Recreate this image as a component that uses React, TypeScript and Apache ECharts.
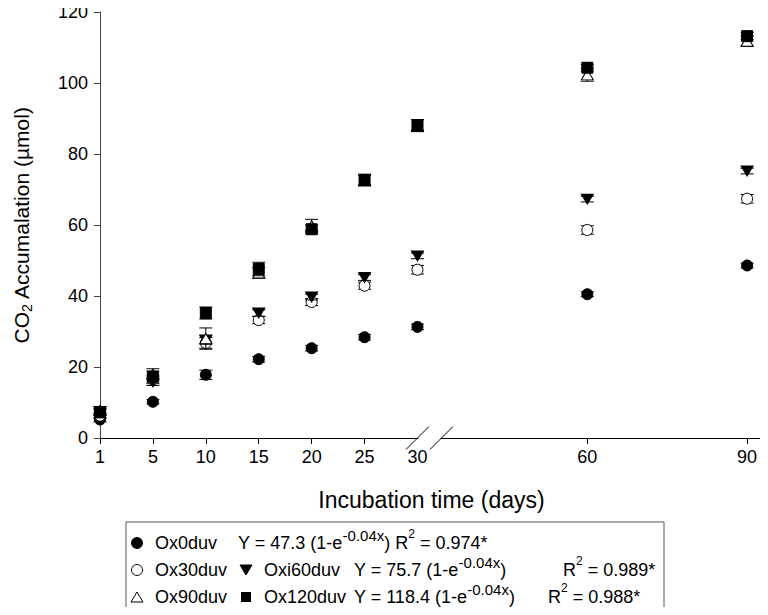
import React, { useEffect, useRef } from "react";
import * as echarts from "echarts";

// ---- data ----
const seriesNames = ["Ox0duv", "Ox30duv", "Oxi60duv", "Ox90duv", "Ox120duv"];
const days = [1, 5, 10, 15, 20, 25, 30, 60, 90];
const ox0 = [5.2, 10.2, 17.8, 22.2, 25.3, 28.4, 31.3, 40.5, 48.6];
const ox0Err = [0.6, 0.6, 1.3, 0.8, 0.8, 0.8, 0.8, 0.7, 0.7];
const ox30 = [6.3, 16.5, 26.8, 33.2, 38.3, 42.9, 47.4, 58.6, 67.4];
const ox30Err = [0.8, 1.2, 1.5, 1.0, 1.0, 1.0, 1.2, 1.2, 1.2];
const oxi60 = [7.5, 15.8, 27.6, 35.2, 39.7, 45.2, 51.3, 67.3, 75.2];
const oxi60Err = [0.8, 1.0, 1.2, 0.9, 0.8, 0.8, 0.8, 0.8, 0.8];
const ox90 = [7.8, 18.0, 28.0, 46.5, 59.8, 72.5, 88.0, 102.3, 111.8];
const ox90Err = [1.0, 1.5, 3.0, 1.5, 1.8, 1.5, 1.6, 1.8, 1.5];
const ox120 = [7.2, 17.3, 35.2, 47.6, 58.8, 72.7, 88.0, 104.3, 113.2];
const ox120Err = [0.8, 1.5, 1.7, 1.9, 1.2, 1.6, 1.7, 0.9, 1.0];

const equations = [
  "Y = 47.3 (1-e{sup|-0.04x}) R{sq|2} = 0.974*",
  "Y = 75.7 (1-e{sup|-0.04x})",
  "Y = 118.4 (1-e{sup|-0.04x})",
];
const r2Texts = ["", "R{sq|2} = 0.989*", "R{sq|2} = 0.988*"];

const yTickMax = 120;
const yTickStep = 20;
const xTitle = "Incubation time (days)";
const yTitle = "CO{sub|2} Accumalation (µmol)";

// ---- broken x axis layout (axis slots per tick day) ----
const xTickDays = [1, 5, 10, 15, 20, 25, 30, 60, 90];
const xTickSlots = [0, 1, 2, 3, 4, 5, 6, 9.21, 12.23];
const xSlotMax = 12.53;
const dayToSlot = (d: number) => xTickSlots[xTickDays.indexOf(d)];

const FONT = "'Liberation Sans', Arial, sans-serif";

const allValues = [ox0, ox30, oxi60, ox90, ox120];
const allErrs = [ox0Err, ox30Err, oxi60Err, ox90Err, ox120Err];
const symbols: any[] = [
  { symbol: "circle", size: 11, rotate: 0, fill: "#000" },
  { symbol: "circle", size: 11, rotate: 0, fill: "#fff" },
  { symbol: "triangle", size: [12, 10], rotate: 180, fill: "#000" },
  { symbol: "triangle", size: [12, 10], rotate: 0, fill: "#fff" },
  { symbol: "rect", size: 11, rotate: 0, fill: "#000" },
];

export default function App() {
  const ref = useRef<HTMLDivElement>(null);
  useEffect(() => {
    if (!ref.current) return;
    const chart = echarts.init(ref.current, null, { renderer: "svg" });
    const series: any[] = [];
    allValues.forEach((vals, si) => {
      const errs = allErrs[si];
      series.push({
        type: "custom",
        name: seriesNames[si] + " err",
        z: 2 + si * 2,
        data: days.map((d, i) => [dayToSlot(d), vals[i], errs[i]]),
        renderItem: (params: any, api: any) => {
          const x = api.value(0);
          const y = api.value(1);
          const e = api.value(2);
          const top = api.coord([x, y + e]);
          const bot = api.coord([x, y - e]);
          const hw = 6.5;
          const st = { stroke: "#000", lineWidth: 1 };
          return {
            type: "group",
            children: [
              { type: "line", shape: { x1: top[0], y1: top[1], x2: bot[0], y2: bot[1] }, style: st },
              { type: "line", shape: { x1: top[0] - hw, y1: top[1], x2: top[0] + hw, y2: top[1] }, style: st },
              { type: "line", shape: { x1: bot[0] - hw, y1: bot[1], x2: bot[0] + hw, y2: bot[1] }, style: st },
            ],
          };
        },
      });
      const sym = symbols[si];
      series.push({
        type: "scatter",
        name: seriesNames[si],
        z: 3 + si * 2,
        symbol: sym.symbol,
        symbolSize: sym.size,
        symbolRotate: sym.rotate,
        itemStyle: { color: sym.fill, borderColor: "#000", borderWidth: 1, opacity: 1 },
        data: days.map((d, i) => [dayToSlot(d), vals[i]]),
      });
    });

    const rowY = [543, 570, 597];
    const legendText = (text: string, x: number, y: number) => ({
      type: "text",
      z: 100,
      style: {
        text,
        x,
        y,
        fill: "#000",
        fontSize: 18,
        fontFamily: FONT,
        verticalAlign: "middle",
        lineHeight: 30,
        rich: {
          sup: { fontSize: 15, fontFamily: FONT, lineHeight: 16, verticalAlign: "top" },
          sq: { fontSize: 12, fontFamily: FONT, lineHeight: 14, verticalAlign: "top" },
        },
      },
    });
    const tri = (cx: number, cy: number, down: boolean, fill: string) => ({
      type: "polygon",
      z: 100,
      shape: {
        points: down
          ? [[cx - 6, cy - 5], [cx + 6, cy - 5], [cx, cy + 5]]
          : [[cx - 6, cy + 5], [cx + 6, cy + 5], [cx, cy - 5]],
      },
      style: { fill, stroke: "#000", lineWidth: 1 },
    });

    const option: any = {
      animation: false,
      backgroundColor: "#fff",
      grid: { left: 99, right: 5, top: 12, bottom: 177, containLabel: false },
      xAxis: {
        type: "value",
        min: 0,
        max: xSlotMax,
        splitLine: { show: false },
        axisLine: { show: true, lineStyle: { color: "#000", width: 1 } },
        axisTick: {
          show: true,
          inside: false,
          length: 6,
          customValues: xTickSlots.filter((_, i) => xTickDays[i] !== 30),
          lineStyle: { color: "#000" },
        },
        axisLabel: {
          customValues: xTickSlots,
          formatter: (v: number) => {
            const i = xTickSlots.findIndex((s) => Math.abs(s - v) < 1e-6);
            return i >= 0 ? String(xTickDays[i]) : "";
          },
          color: "#000",
          fontSize: 18,
          fontFamily: FONT,
          margin: 10,
          showMinLabel: true,
          showMaxLabel: true,
        },
        name: xTitle,
        nameLocation: "middle",
        nameGap: 50,
        nameTextStyle: { color: "#000", fontSize: 23, fontFamily: FONT },
      },
      yAxis: {
        type: "value",
        min: 0,
        max: yTickMax,
        interval: yTickStep,
        splitLine: { show: false },
        axisLine: { show: true, lineStyle: { color: "#444", width: 1 } },
        axisTick: { show: true, inside: false, length: 6, lineStyle: { color: "#444" } },
        axisLabel: { color: "#000", fontSize: 18, fontFamily: FONT, margin: 12 },
        name: yTitle,
        nameLocation: "middle",
        nameGap: 66,
        nameRotate: 90,
        nameTextStyle: {
          color: "#000",
          fontSize: 21,
          fontFamily: FONT,
          lineHeight: 26,
          rich: {
            sub: { fontSize: 14, fontFamily: FONT, color: "#000", verticalAlign: "bottom", lineHeight: 26 },
          },
        },
      },
      series,
    };
    chart.setOption(option);

    const p30 = chart.convertToPixel({ xAxisIndex: 0, yAxisIndex: 0 }, [dayToSlot(30), 0]) as number[];
    const bx = p30[0];
    const by = p30[1];
    const gap = 24;
    const slash = (cx: number) => ({
      type: "line",
      z: 101,
      shape: { x1: cx - 11.5, y1: by + 11.5, x2: cx + 11.5, y2: by - 11.5 },
      style: { stroke: "#000", lineWidth: 1 },
    });

    chart.setOption({
      graphic: [
        { type: "rect", z: 100, shape: { x: bx + 1, y: by - 2, width: gap - 2, height: 4 }, style: { fill: "#fff" } },
        slash(bx),
        slash(bx + gap),
        {
          type: "rect",
          z: 99,
          shape: { x: 126, y: 522, width: 538, height: 86 },
          style: { fill: "#fff", stroke: "#555", lineWidth: 1 },
        },
        { type: "circle", z: 100, shape: { cx: 137, cy: rowY[0], r: 5.5 }, style: { fill: "#000", stroke: "#000" } },
        { type: "circle", z: 100, shape: { cx: 137, cy: rowY[1], r: 5.5 }, style: { fill: "#fff", stroke: "#000", lineWidth: 1 } },
        tri(137, rowY[2], false, "#fff"),
        tri(246, rowY[1], true, "#000"),
        { type: "rect", z: 100, shape: { x: 241, y: rowY[2] - 5, width: 10, height: 10 }, style: { fill: "#000" } },
        legendText(seriesNames[0], 155, rowY[0]),
        legendText(seriesNames[1], 155, rowY[1]),
        legendText(seriesNames[3], 155, rowY[2]),
        legendText(seriesNames[2], 264, rowY[1]),
        legendText(seriesNames[4], 264, rowY[2]),
        legendText(equations[0], 238, rowY[0]),
        legendText(equations[1], 354, rowY[1]),
        legendText(r2Texts[1], 563, rowY[1]),
        legendText(equations[2], 354, rowY[2]),
        legendText(r2Texts[2], 548, rowY[2]),
      ],
    });

    return () => chart.dispose();
  }, []);
  return <div ref={ref} style={{ width: 768, height: 615, margin: -8 }} />;
}
